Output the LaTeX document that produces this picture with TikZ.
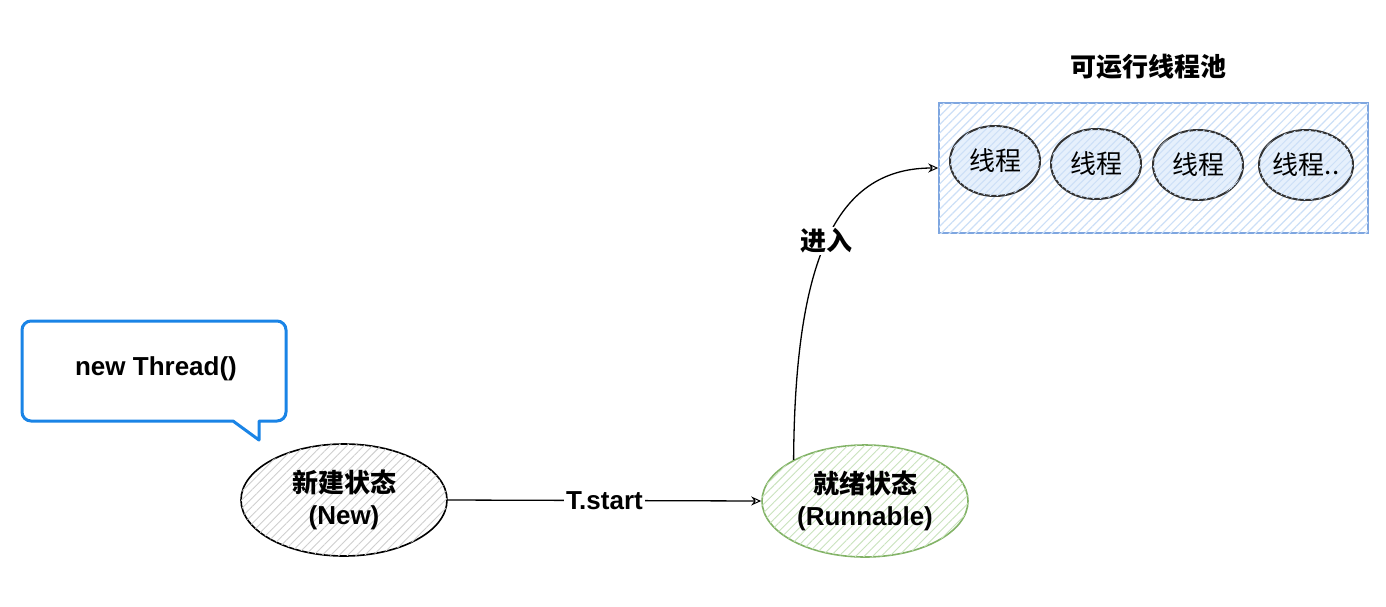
\documentclass[tikz,border=0pt]{standalone}
\usepackage{fontspec}
\setmainfont{Liberation Sans}
\newfontfamily\cjk{Noto Sans CJK SC}
\usetikzlibrary{shapes.geometric,patterns.meta,arrows.meta}
\definecolor{bubbleblue}{HTML}{1A84E6}
\definecolor{greenline}{HTML}{82B366}
\definecolor{greenhatch}{HTML}{C9E3BD}
\definecolor{poolline}{HTML}{7EA6E0}
\definecolor{poolhatch}{HTML}{CCDFF7}
\definecolor{circfill}{HTML}{E6F0FC}
\definecolor{grayhatch}{HTML}{CFCFCF}
\definecolor{circline}{HTML}{333333}
\tikzset{
  txt/.style={font=\fontsize{26}{32}\selectfont\bfseries, align=center, inner sep=0pt},
  state/.style={ellipse, inner sep=0pt, minimum width=206pt, minimum height=112pt,
    line width=1.6pt, txt},
  newstate/.style={state, draw=black, fill=white, postaction={pattern={Lines[angle=45,distance=6pt,line width=0.9pt]}, pattern color=grayhatch}},
  runstate/.style={state, draw=greenline, fill=white, postaction={pattern={Lines[angle=45,distance=6pt,line width=0.9pt]}, pattern color=greenhatch}},
  thread/.style={ellipse, inner sep=0pt, minimum width=90pt, minimum height=70pt, draw=circline, line width=2pt,
    fill=circfill, postaction={pattern={Lines[angle=45,distance=5pt,line width=1pt]}, pattern color=poolhatch},
    font=\fontsize{26}{31}\selectfont\cjk},
  conn/.style={line width=1.3pt, -{Stealth[open,length=10pt,width=9pt,line width=1pt]}},
  lbl/.style={txt, fill=white, inner sep=2pt},
}
\begin{document}
\begin{tikzpicture}[x=1pt,y=-1pt]
\useasboundingbox[fill=white] (0,0) rectangle (1386,606);
% speech bubble
\draw[bubbleblue, line width=3pt, line join=round]
  (22,371) [rounded corners=9pt] -- (22,321) -- (286,321) -- (286,421) [sharp corners] -- (259,421) -- (259,440) -- (233,421) [rounded corners=9pt] -- (22,421) -- cycle;
\node[txt] (bubtxt) at (156,369) {new Thread()};
% states
\node[newstate] (new) at (344,500) {{\cjk 新建状态}\\(New)};
\node[runstate] (run) at (865,501) {{\cjk 就绪状态}\\(Runnable)};
% pool
\node[draw=poolline, line width=1.5pt, fill=white, postaction={pattern={Lines[angle=45,distance=6pt,line width=1.2pt]}, pattern color=poolhatch},
  minimum width=429pt, minimum height=130pt, inner sep=0pt] (pool) at (1153.5,168) {};
\node[txt] (pooltitle) at (1148,67) {\cjk 可运行线程池};
\node[thread] (t1) at (995,161) {线程};
\node[thread] (t2) at (1096,164) {线程};
\node[thread] (t3) at (1198,165) {线程};
\node[thread] (t4) at (1306,165) {线程..};
% connectors
\draw[conn] (new.east) -- node[lbl] (lstart) {T.start} (run.west);
\draw[conn] (run.150) .. controls (795,250) and (840,168) .. (pool.west)
  node[lbl, pos=0.48] (lenter) {\cjk 进入};
\end{tikzpicture}
\end{document}
